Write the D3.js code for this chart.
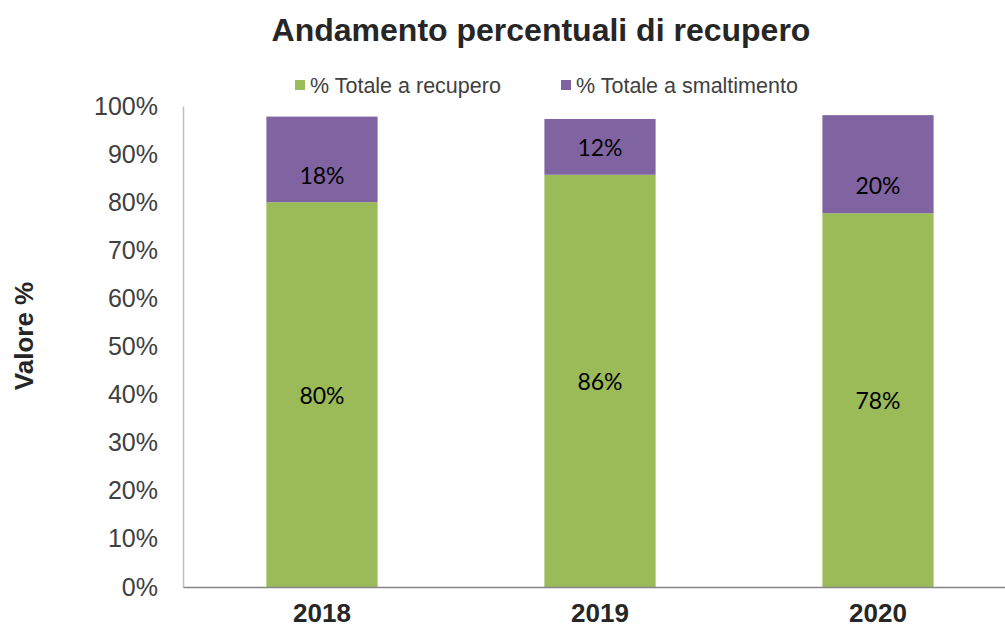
<!DOCTYPE html>
<html>
<head>
<meta charset="utf-8">
<script src="https://cdn.jsdelivr.net/npm/d3@7"></script>
<style>
  body { margin: 0; background: #fff; }
  svg { display: block; font-family: "Liberation Sans", Arial, sans-serif; }
</style>
</head>
<body>
<svg id="chart"></svg>
<script>
// dati
var anni = ["2018", "2019", "2020"];
var recupero = [80.0, 85.7, 77.7];
var smaltimento = [17.8, 11.6, 20.4];
var etichetteRecupero = ["80%", "86%", "78%"];
var etichetteSmaltimento = ["18%", "12%", "20%"];
var serie = ["% Totale a recupero", "% Totale a smaltimento"];
var colori = ["#9bbb59", "#8064a2"];
var ticksY = [0, 10, 20, 30, 40, 50, 60, 70, 80, 90, 100];

// nell'originale alcune etichette viola sono state spostate a mano (in px)
var spostaEtichetteViola = [17, 1, 22];

var w = 1005, h = 630;
var margin = { top: 106, right: -12, bottom: 43, left: 183 };
var innerW = w - margin.left - margin.right;
var innerH = h - margin.top - margin.bottom;

var svg = d3.select("#chart").attr("width", w).attr("height", h);

var x = d3.scaleBand().domain(anni).range([0, innerW]).paddingInner(0.6).paddingOuter(0.3);
var y = d3.scaleLinear().domain([0, 100]).range([innerH, 0]);

var g = svg.append("g")
  .attr("transform", "translate(" + margin.left + "," + margin.top + ")");

// titolo
svg.append("text")
  .attr("x", 541).attr("y", 41)
  .attr("text-anchor", "middle")
  .style("font-size", "32px").style("font-weight", "bold")
  .style("fill", "#262626")
  .text("Andamento percentuali di recupero");

// legenda
var legenda = [{ x: 295, t: serie[0], c: colori[0] }, { x: 561, t: serie[1], c: colori[1] }];
legenda.forEach(function(l) {
  svg.append("rect").attr("x", l.x).attr("y", 80).attr("width", 10).attr("height", 10).attr("fill", l.c);
  svg.append("text").attr("x", l.x + 15).attr("y", 93)
    .style("font-size", "21.5px").style("fill", "#404040").text(l.t);
});

// barre impilate
var stack = anni.map(function(a, i) {
  return { anno: a, rec: recupero[i], sma: smaltimento[i], lr: etichetteRecupero[i], ls: etichetteSmaltimento[i], dy: spostaEtichetteViola[i] };
});

g.selectAll(".rec").data(stack).enter().append("rect")
  .attr("x", function(d) { return x(d.anno); })
  .attr("y", function(d) { return y(d.rec); })
  .attr("width", x.bandwidth())
  .attr("height", function(d) { return y(0) - y(d.rec); })
  .attr("fill", colori[0]);

g.selectAll(".sma").data(stack).enter().append("rect")
  .attr("x", function(d) { return x(d.anno); })
  .attr("y", function(d) { return y(d.rec + d.sma); })
  .attr("width", x.bandwidth())
  .attr("height", function(d) { return y(d.rec) - y(d.rec + d.sma); })
  .attr("fill", colori[1]);

// etichette dei valori (font tipo Calibri)
g.selectAll(".lblr").data(stack).enter().append("text")
  .attr("x", function(d) { return x(d.anno) + x.bandwidth() / 2; })
  .attr("y", function(d) { return y(d.rec / 2) + 1; })
  .attr("dy", "0.35em")
  .attr("text-anchor", "middle")
  .style("font-family", "Lato, 'Noto Sans', sans-serif")
  .style("font-size", "23px").style("fill", "#000")
  .text(function(d) { return d.lr; });

g.selectAll(".lbls").data(stack).enter().append("text")
  .attr("x", function(d) { return x(d.anno) + x.bandwidth() / 2; })
  .attr("y", function(d) { return y(d.rec + d.sma / 2) + d.dy; })
  .attr("dy", "0.35em")
  .attr("text-anchor", "middle")
  .style("font-family", "Lato, 'Noto Sans', sans-serif")
  .style("font-size", "23px").style("fill", "#000")
  .text(function(d) { return d.ls; });

// asse Y
var asseY = g.append("g")
  .call(d3.axisLeft(y).tickValues(ticksY).tickSize(0).tickPadding(25)
    .tickFormat(function(d) { return d + "%"; }));
asseY.select(".domain").attr("stroke", "#bfbfbf").attr("stroke-width", 1.5);
asseY.selectAll("text").style("font-size", "25px").style("fill", "#404040")
  .style("font-family", "'Liberation Sans', Arial, sans-serif");

// asse X
var asseX = g.append("g")
  .attr("transform", "translate(0," + innerH + ")")
  .call(d3.axisBottom(x).tickSize(0).tickPadding(17));
asseX.select(".domain").attr("stroke", "#868686").attr("stroke-width", 1.5);
asseX.selectAll("text").style("font-size", "26px").style("font-weight", "bold")
  .style("fill", "#262626")
  .style("font-family", "'Liberation Sans', Arial, sans-serif");

// titolo asse Y
svg.append("text")
  .attr("transform", "translate(33,336) rotate(-90)")
  .attr("text-anchor", "middle")
  .style("font-size", "26px").style("font-weight", "bold")
  .style("fill", "#262626")
  .text("Valore %");
</script>
</body>
</html>
